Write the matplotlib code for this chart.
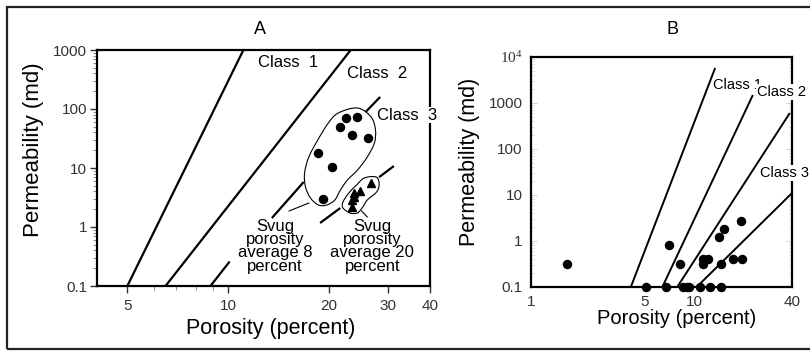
import numpy as np
import matplotlib
matplotlib.use("Agg")
import matplotlib.pyplot as plt
from matplotlib.path import Path
from matplotlib.patches import PathPatch, Rectangle
from matplotlib.ticker import FixedLocator, NullFormatter, LogLocator

plt.rcParams['font.family'] = ['Liberation Sans', 'DejaVu Sans']

# ---- Panel A data ----
a_circle_por = [22.4, 24.3, 21.6, 23.4, 26.2, 18.5, 20.4, 19.2]
a_circle_perm = [70, 73, 49.5, 36, 32, 18, 10.4, 3.0]
a_tri_por = [26.6, 24.8, 23.7, 23.8, 23.4, 23.4]
a_tri_perm = [5.6, 4.1, 3.8, 3.2, 2.9, 2.2]

# class boundary lines (porosity pairs, permeability pairs), broken where the blobs sit
a_lines = [
    ([5.0, 11.1], [0.1, 1000]),
    ([6.5, 23.2], [0.1, 1000]),
    ([8.85, 10.1], [0.1, 0.26]),
    ([13.5, 16.8], [1.42, 5.8]),
    ([25.7, 28.4], [89, 160]),
    ([18.8, 21.6], [1.17, 2.1]),
    ([28.2, 31.2], [7.0, 10.8]),
]

# outlines around the two groups
blob8_por = [24.3, 26.7, 27.5, 27.3, 26.0, 24.3, 22.7, 21.6, 20.8, 19.7, 18.6,
             17.6, 17.0, 16.9, 17.4, 18.5, 19.9, 21.3, 22.7]
blob8_perm = [104, 73, 44, 26.5, 15.4, 9.2, 6.3, 4.2, 2.87, 2.36, 2.36,
              3.1, 4.8, 8.2, 15.4, 29.8, 58, 85.5, 104]
blob20_por = [27.7, 28.2, 27.7, 26.0, 25.2, 24.3, 23.1, 22.0, 22.0, 22.9, 24.2, 25.5, 26.7]
blob20_perm = [7.0, 5.2, 3.9, 2.87, 2.18, 1.73, 1.73, 2.1, 2.65, 3.77, 5.2, 6.8, 7.6]
leader8 = ([15.2, 17.4], [1.87, 2.55])
leader20 = ([25.0, 26.0], [1.87, 1.48])

a_xticks = [5, 10, 20, 30, 40]
a_yticks = [0.1, 1, 10, 100, 1000]
a_ylabels = ['0.1', '1', '10', '100', '1000']

# ---- Panel B data ----
b_por = [1.66, 7.03, 5.08, 6.73, 8.2, 8.56, 9.06, 9.3, 10.9, 12.5, 14.6,
         11.4, 12.2, 11.4, 14.2, 15.3, 14.6, 17.3, 19.7, 19.4]
b_perm = [0.32, 0.82, 0.1, 0.1, 0.32, 0.1, 0.1, 0.1, 0.1, 0.1, 0.1,
          0.41, 0.41, 0.32, 1.22, 1.82, 0.32, 0.41, 0.41, 2.7]
b_lines = [
    ([4.1, 13.5], [0.1, 5770]),
    ([6.4, 23.0], [0.1, 1490]),
    ([7.9, 38.8], [0.1, 607]),
    ([10.4, 40.0], [0.1, 11]),
]
b_xticks = [1, 5, 10, 40]
b_yticks = [0.1, 1, 10, 100, 1000, 10000]
b_ylabels = ['0.1', '1', '10', '100', '1000', r'$\mathregular{10^4}$']


def smooth_outline(xs, ys):
    # closed Catmull-Rom style curve in log space, drawn with bezier segments
    lx = np.log10(xs[:-1])
    ly = np.log10(ys[:-1])
    n = len(lx)
    verts = [(xs[0], ys[0])]
    codes = [Path.MOVETO]
    for i in range(n):
        p0 = np.array([lx[i - 1], ly[i - 1]])
        p1 = np.array([lx[i], ly[i]])
        p2 = np.array([lx[(i + 1) % n], ly[(i + 1) % n]])
        p3 = np.array([lx[(i + 2) % n], ly[(i + 2) % n]])
        c1 = p1 + (p2 - p0) / 6
        c2 = p2 - (p3 - p1) / 6
        for c in (c1, c2, p2):
            verts.append((10 ** c[0], 10 ** c[1]))
            codes.append(Path.CURVE4)
    return Path(verts, codes)


fig = plt.figure(figsize=(8.1, 3.52), dpi=100)

# ---------------- Panel A ----------------
axA = fig.add_axes([97 / 810, 1 - 286 / 352, 333 / 810, 236 / 352])
axA.set_xscale('log')
axA.set_yscale('log')
axA.set_xlim(4.06, 40)
axA.set_ylim(0.1, 1000)

for xs, ys in a_lines:
    axA.plot(xs, ys, color='black', lw=1.6, solid_capstyle='butt')

axA.plot(a_circle_por, a_circle_perm, 'o', color='black', ms=5.8)
axA.plot(a_tri_por, a_tri_perm, '^', color='black', ms=5.2)

for bx, by in [(blob8_por, blob8_perm), (blob20_por, blob20_perm)]:
    axA.add_patch(PathPatch(smooth_outline(bx, by), facecolor='none',
                            edgecolor='black', lw=0.8))
for xs, ys in [leader8, leader20]:
    axA.plot(xs, ys, color='black', lw=0.8)

axA.text(12.3, 626, 'Class  1', fontsize=12, ha='left', va='center')
axA.text(22.6, 407, 'Class  2', fontsize=12, ha='left', va='center')
axA.text(27.8, 79, 'Class  3', fontsize=12, ha='left', va='center', clip_on=False,
         zorder=5, bbox=dict(facecolor='white', edgecolor='none', pad=0.5))
axA.text(13.8, 0.47, 'Svug\nporosity\naverage 8\npercent', fontsize=12,
         ha='center', va='center', linespacing=0.85)
axA.text(26.9, 0.47, 'Svug\nporosity\naverage 20\npercent', fontsize=12,
         ha='center', va='center', linespacing=0.85, clip_on=False, zorder=5)

axA.xaxis.set_major_locator(FixedLocator(a_xticks))
axA.set_xticklabels([str(t) for t in a_xticks])
axA.xaxis.set_minor_locator(LogLocator(base=10, subs=np.arange(2, 10)))
axA.xaxis.set_minor_formatter(NullFormatter())
axA.yaxis.set_major_locator(FixedLocator(a_yticks))
axA.set_yticklabels(a_ylabels)
axA.yaxis.set_minor_locator(LogLocator(base=10, subs=np.arange(2, 10)))
axA.yaxis.set_minor_formatter(NullFormatter())
axA.tick_params(which='major', direction='out', length=5, width=1, labelsize=11,
                colors='#333333', pad=2)
axA.tick_params(which='minor', direction='out', length=3, width=0.6, color='#777777')
axA.tick_params(axis='x', which='major', pad=4)
for sp in axA.spines.values():
    sp.set_linewidth(1.6)

axA.set_xlabel('Porosity (percent)', fontsize=15.5)
axA.set_ylabel('Permeability (md)', fontsize=16)
axA.xaxis.set_label_coords(0.523, -0.178)
axA.xaxis.label.set_va('center')
axA.yaxis.set_label_coords(-0.192, 0.576)
axA.yaxis.label.set_va('center')

fig.text(260 / 810, 1 - 30 / 352, 'A', fontsize=13, ha='center', va='center')

# ---------------- Panel B ----------------
axB = fig.add_axes([531 / 810, 1 - 287 / 352, 261 / 810, 230 / 352])
axB.set_xscale('log')
axB.set_yscale('log')
axB.set_xlim(1, 40)
axB.set_ylim(0.1, 10000)

for xs, ys in b_lines:
    axB.plot(xs, ys, color='black', lw=1.4, solid_capstyle='butt')
axB.plot(b_por, b_perm, 'o', color='black', ms=5.8, clip_on=False, zorder=4)

axB.text(13.1, 2460, 'Class 1', fontsize=10.5, ha='left', va='center', zorder=5)
axB.text(24.4, 1730, 'Class 2', fontsize=10.5, ha='left', va='center', clip_on=False,
         zorder=6, bbox=dict(facecolor='white', edgecolor='none', pad=0.5))
axB.text(25.4, 30, 'Class 3', fontsize=10.5, ha='left', va='center', clip_on=False,
         zorder=6, bbox=dict(facecolor='white', edgecolor='none', pad=0.5))

axB.xaxis.set_major_locator(FixedLocator(b_xticks))
axB.set_xticklabels([str(t) for t in b_xticks])
axB.xaxis.set_minor_locator(FixedLocator([]))
axB.yaxis.set_major_locator(FixedLocator(b_yticks))
axB.set_yticklabels(b_ylabels)
axB.yaxis.set_minor_locator(LogLocator(base=10, subs=np.arange(2, 10)))
axB.yaxis.set_minor_formatter(NullFormatter())
axB.tick_params(which='both', direction='in', right=True, color='#cccccc',
                labelsize=11, labelcolor='#333333')
axB.tick_params(which='major', length=4, width=0.6, pad=6)
axB.tick_params(which='minor', length=2, width=0.5)
ylab = axB.get_yticklabels()
ylab[-1].set_family(['Liberation Serif', 'DejaVu Serif'])
for sp in axB.spines.values():
    sp.set_linewidth(1.6)

axB.set_xlabel('Porosity (percent)', fontsize=14.5)
axB.set_ylabel('Permeability (md)', fontsize=15.5)
axB.xaxis.set_label_coords(0.559, -0.135)
axB.xaxis.label.set_va('center')
axB.yaxis.set_label_coords(-0.234, 0.543)
axB.yaxis.label.set_va('center')

fig.text(672 / 810, 1 - 30 / 352, 'B', fontsize=13, ha='center', va='center')

# outer frame of the figure
fig.patches.append(Rectangle((7 / 810, 3 / 352), 1.2, 1 - 10 / 352,
                             transform=fig.transFigure, fill=False,
                             edgecolor='#222222', lw=1.6))

fig.savefig('out.png', dpi=100)
